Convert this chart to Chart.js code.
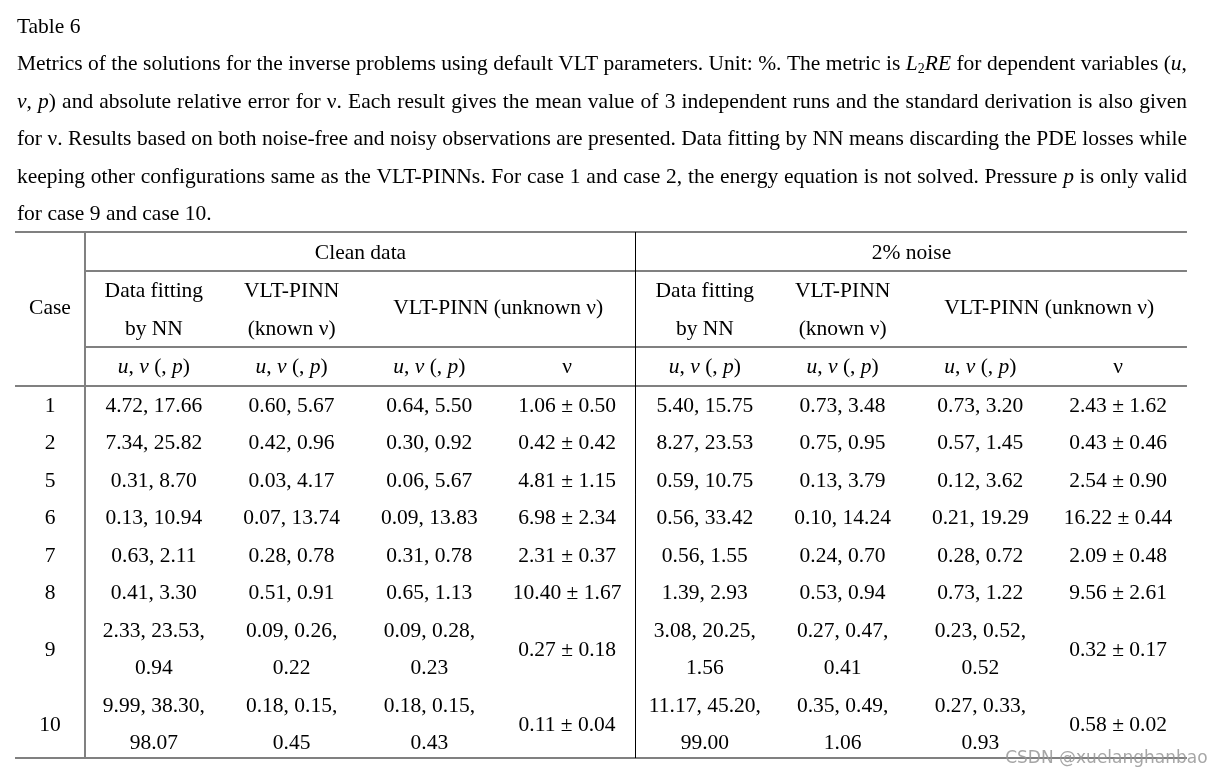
<!DOCTYPE html>
<html>
<head>
<meta charset="utf-8">
<script src="https://cdn.jsdelivr.net/npm/chart.js@4"></script>
<style>
  body { margin: 0; background: #fff; }
  canvas { display: block; }
</style>
</head>
<body>
<canvas id="tableChart" width="1213" height="778"></canvas>
<script>
// Table values (unit: %)
const cases = ['1', '2', '5', '6', '7', '8', '9', '10'];

const cleanNN = [[4.72, 17.66], [7.34, 25.82], [0.31, 8.70], [0.13, 10.94], [0.63, 2.11], [0.41, 3.30], [2.33, 23.53, 0.94], [9.99, 38.30, 98.07]];
const cleanKnown = [[0.60, 5.67], [0.42, 0.96], [0.03, 4.17], [0.07, 13.74], [0.28, 0.78], [0.51, 0.91], [0.09, 0.26, 0.22], [0.18, 0.15, 0.45]];
const cleanUnknown = [[0.64, 5.50], [0.30, 0.92], [0.06, 5.67], [0.09, 13.83], [0.31, 0.78], [0.65, 1.13], [0.09, 0.28, 0.23], [0.18, 0.15, 0.43]];
const cleanNuMean = [1.06, 0.42, 4.81, 6.98, 2.31, 10.40, 0.27, 0.11];
const cleanNuStd = [0.50, 0.42, 1.15, 2.34, 0.37, 1.67, 0.18, 0.04];

const noisyNN = [[5.40, 15.75], [8.27, 23.53], [0.59, 10.75], [0.56, 33.42], [0.56, 1.55], [1.39, 2.93], [3.08, 20.25, 1.56], [11.17, 45.20, 99.00]];
const noisyKnown = [[0.73, 3.48], [0.75, 0.95], [0.13, 3.79], [0.10, 14.24], [0.24, 0.70], [0.53, 0.94], [0.27, 0.47, 0.41], [0.35, 0.49, 1.06]];
const noisyUnknown = [[0.73, 3.20], [0.57, 1.45], [0.12, 3.62], [0.21, 19.29], [0.28, 0.72], [0.73, 1.22], [0.23, 0.52, 0.52], [0.27, 0.33, 0.93]];
const noisyNuMean = [2.43, 0.43, 2.54, 16.22, 2.09, 9.56, 0.32, 0.58];
const noisyNuStd = [1.62, 0.46, 0.90, 0.44, 0.48, 2.61, 0.17, 0.02];

const groupLabels = ['Clean data', '2% noise'];
const methodLabels = [['Data fitting', 'by NN'], ['VLT-PINN', '(known ν)'], ['VLT-PINN (unknown ν)']];
const varLabels = ['*u*, *v* (, *p*)', 'ν'];

// caption text, * toggles italic, ~ toggles subscript
const title = 'Table 6';
const caption = [
  'Metrics of the solutions for the inverse problems using default VLT parameters. Unit: %. The metric is *L*~2~*RE* for dependent variables (*u*,',
  '*v*, *p*) and absolute relative error for ν. Each result gives the mean value of 3 independent runs and the standard derivation is also given',
  'for ν. Results based on both noise-free and noisy observations are presented. Data fitting by NN means discarding the PDE losses while',
  'keeping other configurations same as the VLT-PINNs. For case 1 and case 2, the energy equation is not solved. Pressure *p* is only valid',
  'for case 9 and case 10.'
];

const FONT = '"Liberation Serif", "Times New Roman", serif';
const SIZE = 21.5;
const RULE = '#808080';

function parseRich(str) {
  const segs = [];
  let it = false, sub = false, buf = '';
  for (const ch of str) {
    if (ch === '*' || ch === '~') {
      if (buf) segs.push({ t: buf, it, sub });
      buf = '';
      if (ch === '*') it = !it; else sub = !sub;
    } else buf += ch;
  }
  if (buf) segs.push({ t: buf, it, sub });
  return segs;
}

function segFont(s) {
  return (s.it ? 'italic ' : '') + (s.sub ? 14 : SIZE) + 'px ' + FONT;
}

function richWidth(ctx, segs) {
  let w = 0;
  segs.forEach(s => { ctx.font = segFont(s); w += ctx.measureText(s.t).width; });
  return w;
}

function drawSegs(ctx, segs, x, y) {
  segs.forEach(s => {
    ctx.font = segFont(s);
    ctx.fillText(s.t, x, s.sub ? y + 5 : y);
    x += ctx.measureText(s.t).width;
  });
  return x;
}

function drawCentered(ctx, str, cx, cy) {
  const segs = parseRich(str);
  drawSegs(ctx, segs, cx - richWidth(ctx, segs) / 2, cy);
}

function drawJustified(ctx, str, left, right, y, justify) {
  const words = str.split(' ').map(parseRich);
  const widths = words.map(w => richWidth(ctx, w));
  ctx.font = SIZE + 'px ' + FONT;
  let gap = ctx.measureText(' ').width;
  if (justify) gap = (right - left - widths.reduce((a, b) => a + b, 0)) / (words.length - 1);
  let x = left;
  words.forEach((w, i) => { drawSegs(ctx, w, x, y); x += widths[i] + gap; });
}

function pairText(v) {
  return v.map(n => n.toFixed(2)).join(', ');
}

const tablePlugin = {
  id: 'table',
  afterDraw(chart) {
    const { ctx, scales: { x, y } } = chart;
    const X = v => x.getPixelForValue(v);
    const Y = v => y.getPixelForValue(v);
    ctx.save();
    ctx.fillStyle = '#000';
    ctx.textBaseline = 'middle';
    ctx.textAlign = 'left';

    // title + caption
    const textLeft = X(-0.494), textRight = X(8);
    drawSegs(ctx, parseRich(title), textLeft, Y(0));
    caption.forEach((line, i) => drawJustified(ctx, line, textLeft, textRight, Y(i + 1), i < caption.length - 1));

    // rules
    const hline = (k, x0, x1) => {
      ctx.strokeStyle = RULE; ctx.lineWidth = 2;
      ctx.beginPath(); ctx.moveTo(X(x0), Y(k)); ctx.lineTo(X(x1), Y(k)); ctx.stroke();
    };
    hline(5.462, -0.508, 8);
    hline(6.50, 0, 8);
    hline(8.527, 0, 8);
    hline(9.566, -0.508, 8);
    hline(19.478, -0.508, 8);
    ctx.strokeStyle = RULE; ctx.lineWidth = 2;
    ctx.beginPath(); ctx.moveTo(X(0), Y(5.462)); ctx.lineTo(X(0), Y(19.478)); ctx.stroke();
    ctx.strokeStyle = '#000'; ctx.lineWidth = 1;
    ctx.beginPath(); ctx.moveTo(Math.round(X(3.993)) + 0.5, Y(5.462)); ctx.lineTo(Math.round(X(3.993)) + 0.5, Y(19.478)); ctx.stroke();

    // header
    drawCentered(ctx, 'Case', X(-0.254), Y(7.51));
    groupLabels.forEach((g, gi) => {
      const c0 = gi * 4;
      drawCentered(ctx, g, X(c0 + 2), Y(6.03));
      drawCentered(ctx, methodLabels[0][0], X(c0 + 0.5), Y(7.04));
      drawCentered(ctx, methodLabels[0][1], X(c0 + 0.5), Y(8.05));
      drawCentered(ctx, methodLabels[1][0], X(c0 + 1.5), Y(7.04));
      drawCentered(ctx, methodLabels[1][1], X(c0 + 1.5), Y(8.05));
      drawCentered(ctx, methodLabels[2][0], X(c0 + 3), Y(7.51));
      for (let j = 0; j < 3; j++) drawCentered(ctx, varLabels[0], X(c0 + j + 0.5), Y(9.07));
      drawCentered(ctx, varLabels[1], X(c0 + 3.5), Y(9.07));
    });

    // body
    const cols = [cleanNN, cleanKnown, cleanUnknown, null, noisyNN, noisyKnown, noisyUnknown, null];
    let line = 10.1;
    cases.forEach((c, r) => {
      const two = cleanNN[r].length > 2;
      const mid = two ? line + 0.5 : line;
      drawCentered(ctx, c, X(-0.254), Y(mid));
      cols.forEach((col, j) => {
        if (col === null) {
          const mean = j < 4 ? cleanNuMean[r] : noisyNuMean[r];
          const sd = j < 4 ? cleanNuStd[r] : noisyNuStd[r];
          drawCentered(ctx, mean.toFixed(2) + ' ± ' + sd.toFixed(2), X(j + 0.5), Y(mid));
        } else if (two) {
          drawCentered(ctx, pairText(col[r].slice(0, 2)) + ',', X(j + 0.5), Y(line));
          drawCentered(ctx, col[r][2].toFixed(2), X(j + 0.5), Y(line + 1));
        } else {
          drawCentered(ctx, pairText(col[r]), X(j + 0.5), Y(line));
        }
      });
      line += two ? 2 : 1;
    });

    // watermark
    ctx.font = '17px "DejaVu Sans", sans-serif';
    ctx.fillStyle = 'rgba(150,150,150,0.85)';
    ctx.textAlign = 'right';
    ctx.fillText('CSDN @xuelanghanbao', X(8.15), Y(19.5));
    ctx.restore();
  }
};

new Chart(document.getElementById('tableChart'), {
  type: 'scatter',
  data: { datasets: [{ data: [], pointRadius: 0 }] },
  options: {
    responsive: false,
    animation: false,
    layout: { padding: 0 },
    plugins: { legend: { display: false }, tooltip: { enabled: false } },
    scales: {
      x: { type: 'linear', display: false, min: -0.617, max: 8.189 },
      y: { type: 'linear', display: false, reverse: true, min: -0.7194, max: 20.011 }
    }
  },
  plugins: [tablePlugin]
});
</script>
</body>
</html>
